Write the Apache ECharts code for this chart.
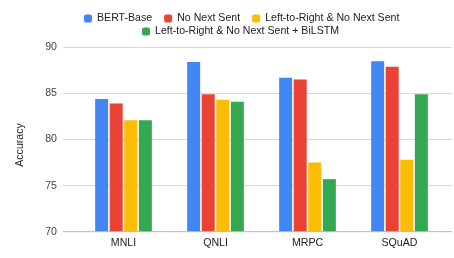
<!DOCTYPE html>
<html>
<head>
<meta charset="utf-8">
<script src="https://cdn.jsdelivr.net/npm/echarts@6/dist/echarts.min.js"></script>
<style>html,body{margin:0;padding:0;background:#fff;}#c{width:454px;height:258px;}</style>
</head>
<body>
<div id="c"></div>
<script>
const categories = ['MNLI', 'QNLI', 'MRPC', 'SQuAD'];
const seriesNames = ['BERT-Base', 'No Next Sent', 'Left-to-Right & No Next Sent', 'Left-to-Right & No Next Sent + BiLSTM'];
const bertBase = [84.4, 88.4, 86.7, 88.5];
const noNextSent = [83.9, 84.9, 86.5, 87.9];
const ltrNoNextSent = [82.1, 84.3, 77.5, 77.8];
const ltrNoNextSentBiLSTM = [82.1, 84.1, 75.7, 84.9];
const yTicks = [70, 75, 80, 85, 90];
const colors = ['#4285F4', '#EA4335', '#FBBC04', '#34A853'];

const font = 'Liberation Sans, Arial, sans-serif';
const chart = echarts.init(document.getElementById('c'), null, {renderer: 'canvas'});
const values = [bertBase, noNextSent, ltrNoNextSent, ltrNoNextSentBiLSTM];
const legendText = {fontFamily: font, fontSize: 10.6, color: '#222'};
chart.setOption({
  animation: false,
  color: colors,
  legend: [
    {data: seriesNames.slice(0, 3), left: 79, top: 8, itemWidth: 8, itemHeight: 8, itemGap: 12, icon: 'roundRect', textStyle: legendText, selectedMode: false},
    {data: seriesNames.slice(3), left: 137, top: 21, itemWidth: 8, itemHeight: 8, itemGap: 12, icon: 'roundRect', textStyle: legendText, selectedMode: false}
  ],
  grid: [
    {left: 63, right: 2, top: 47.3, bottom: 26.3},
    {left: 77.5, right: 8.5, top: 47.3, bottom: 26.3}
  ],
  xAxis: [
    {type: 'category', gridIndex: 0, data: categories, show: false},
    {type: 'category', gridIndex: 1, data: categories,
      axisLine: {show: false}, axisTick: {show: false},
      axisLabel: {fontFamily: font, fontSize: 10.6, color: '#222', margin: 6}}
  ],
  yAxis: [
    {type: 'value', gridIndex: 0, min: yTicks[0], max: yTicks[yTicks.length - 1], interval: 5,
      axisLine: {show: false}, axisTick: {show: false},
      axisLabel: {fontFamily: font, fontSize: 10.6, color: '#444', margin: 6},
      splitLine: {lineStyle: {color: '#d9d9d9', width: 1}}},
    {type: 'value', gridIndex: 1, min: yTicks[0], max: yTicks[yTicks.length - 1], interval: 5, show: false, splitLine: {show: false}}
  ],
  graphic: [
    {type: 'text', x: 20, y: 145, rotation: Math.PI / 2,
      style: {text: 'Accuracy', fontFamily: font, fontSize: 10.6, fill: '#222', align: 'center', verticalAlign: 'middle'}},
    {type: 'line', shape: {x1: 63, y1: 231.7, x2: 452, y2: 231.7}, style: {stroke: '#bdbdbd', lineWidth: 1}, z: 10}
  ],
  series: seriesNames.map((n, i) => ({
    name: n, type: 'bar', xAxisIndex: 1, yAxisIndex: 1,
    data: values[i], barWidth: 13, barGap: '12%'
  }))
});
</script>
</body>
</html>
